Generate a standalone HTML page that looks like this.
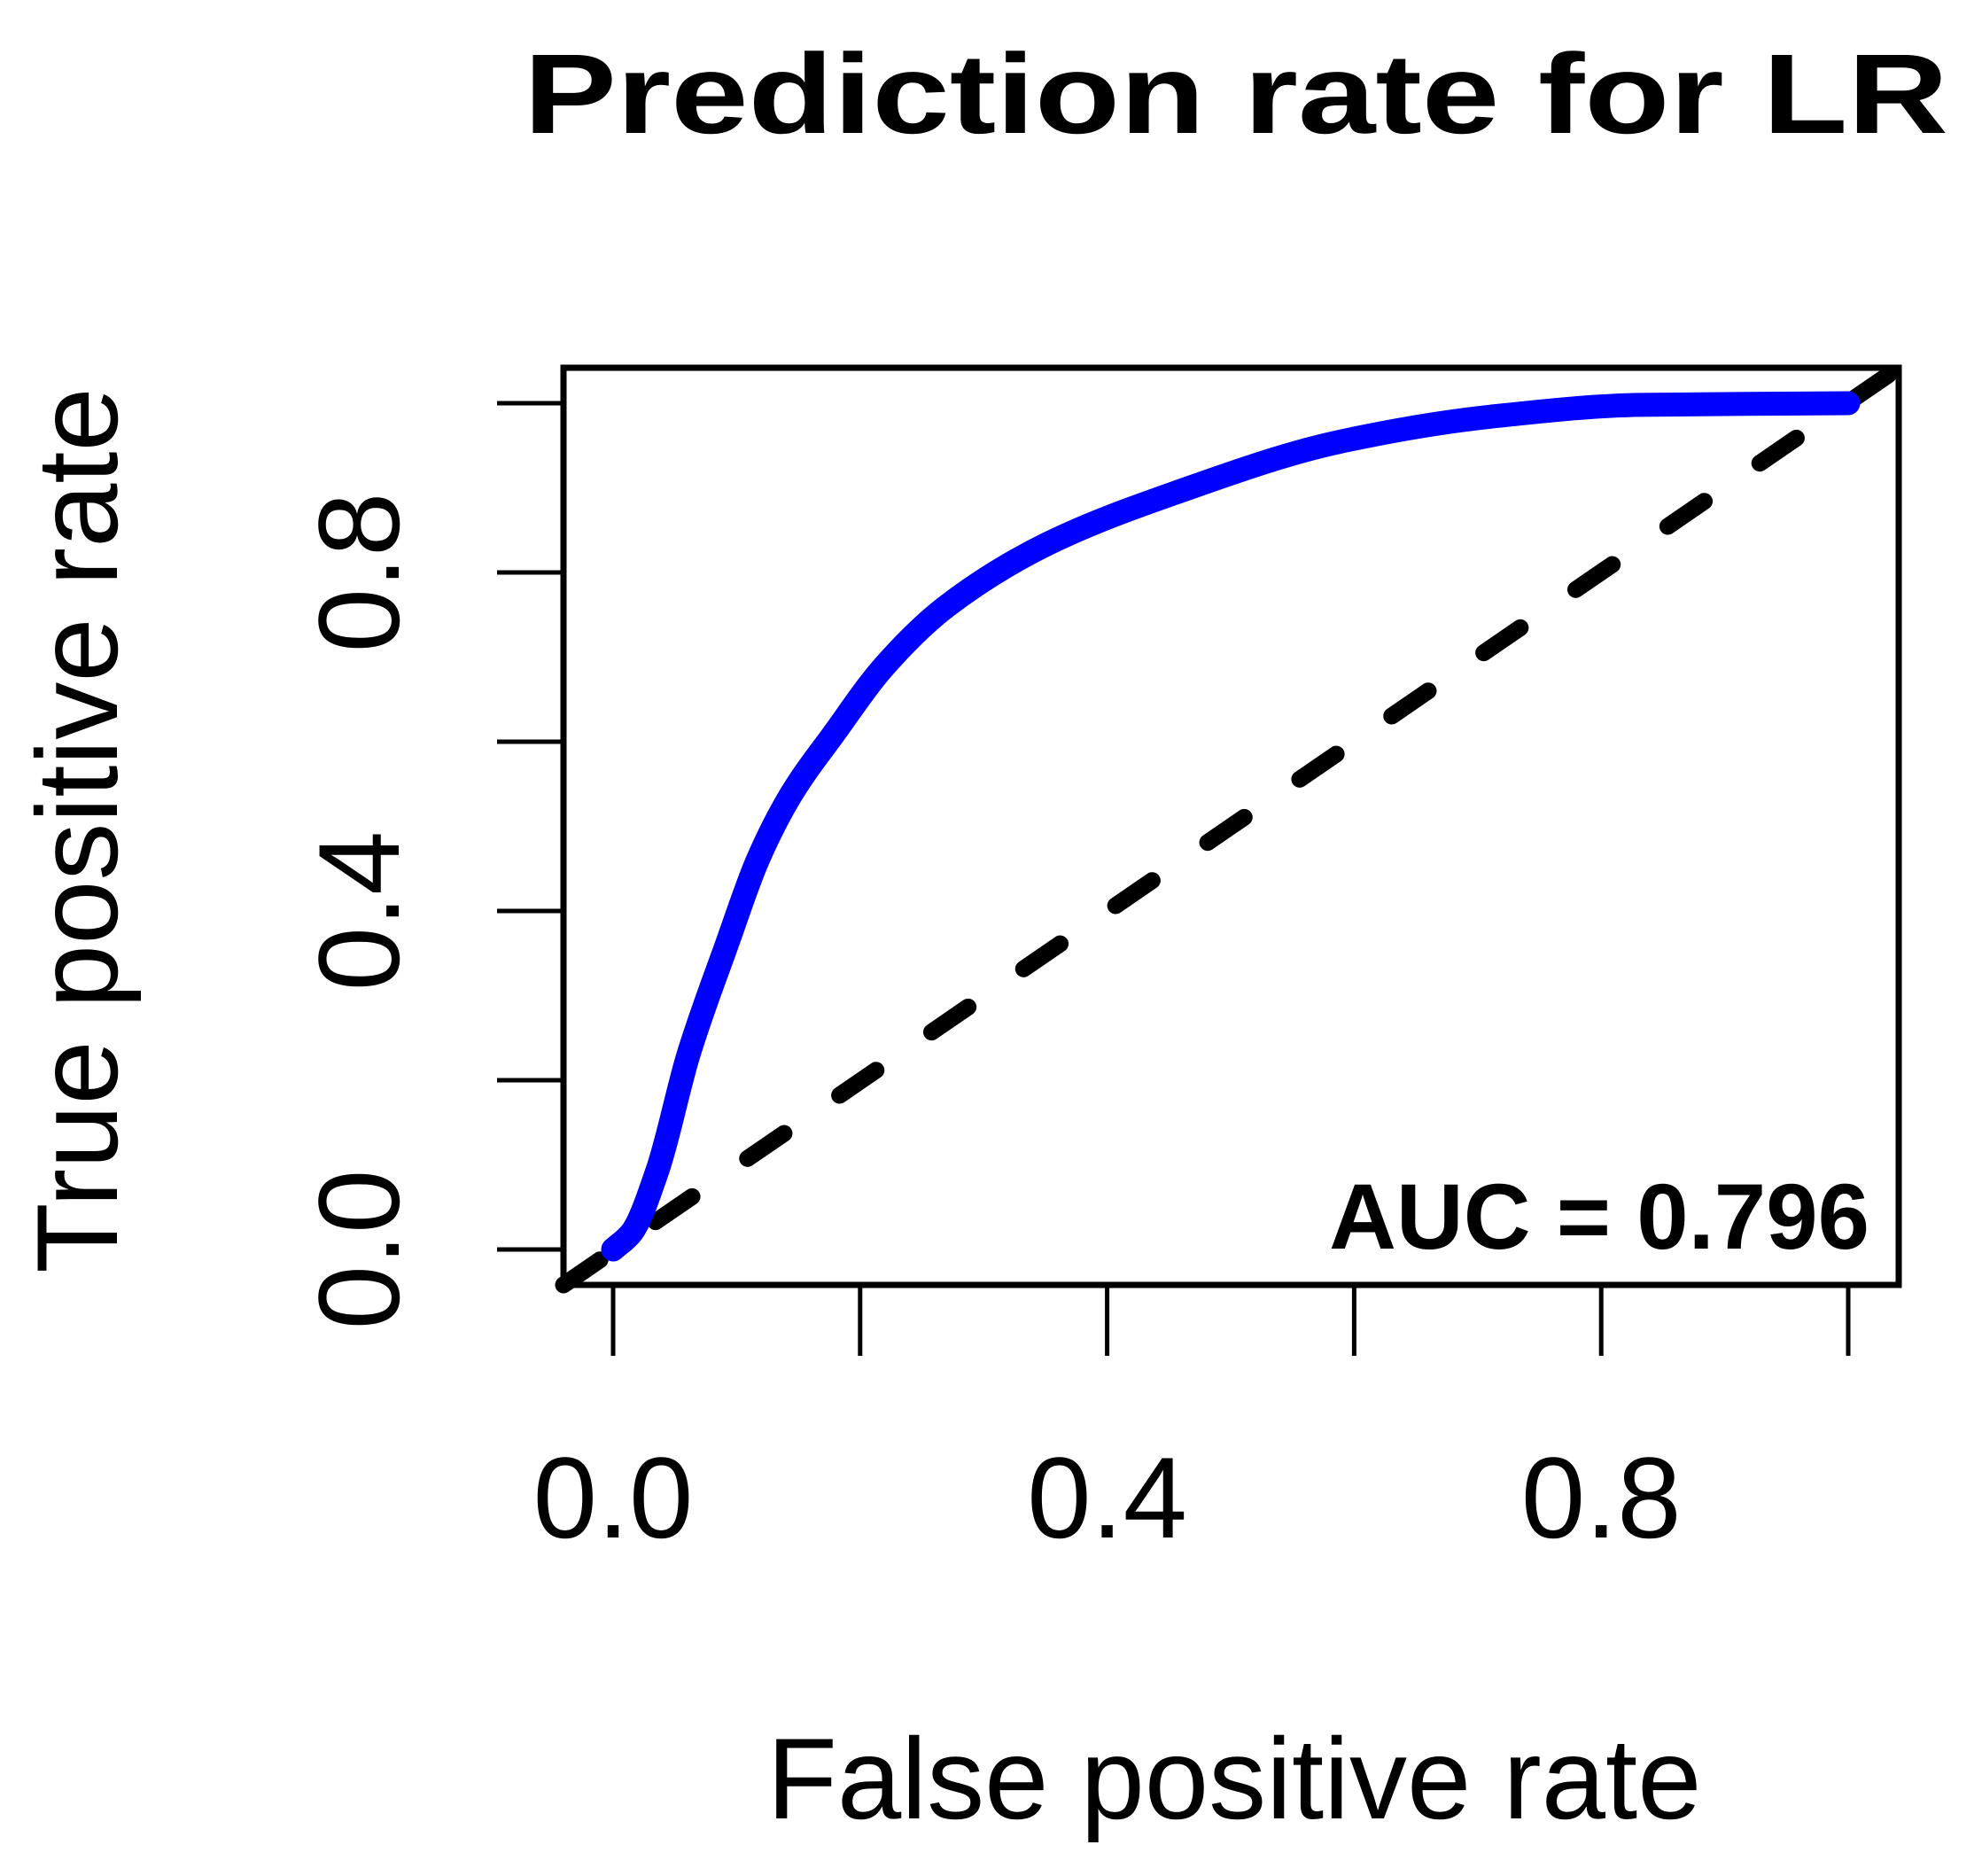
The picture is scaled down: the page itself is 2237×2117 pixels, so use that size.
<!DOCTYPE html>
<html><head><meta charset="utf-8"><style>
html,body{margin:0;padding:0;background:#fff;}
svg{display:block;}
text{font-family:"Liberation Sans",Arial,sans-serif;fill:#000;}
</style></head><body>
<svg id="chart" width="2237" height="2117" viewBox="0 0 2237 2117" xmlns="http://www.w3.org/2000/svg">
<text x="1395" y="150" font-size="128" font-weight="bold" text-anchor="middle" textLength="1608" lengthAdjust="spacingAndGlyphs">Prediction rate for LR</text>
<g id="plot"></g>
<text x="1393" y="2052" font-size="130" text-anchor="middle">False positive rate</text>
<text transform="translate(132,937) rotate(-90)" font-size="130" text-anchor="middle">True positive rate</text>
<text x="2110" y="1409" font-size="105" font-weight="bold" text-anchor="end">AUC = 0.796</text>
</svg>
<script>
const fpr = [0, 0.015, 0.036, 0.061, 0.092, 0.117, 0.143, 0.179, 0.22, 0.27, 0.352, 0.455, 0.587, 0.71, 0.832, 1.0];
const tpr = [0, 0.02, 0.094, 0.23, 0.36, 0.46, 0.535, 0.61, 0.69, 0.76, 0.834, 0.894, 0.954, 0.984, 0.998, 1.0];
const xTicks = [0, 0.2, 0.4, 0.6, 0.8, 1.0];
const yTicks = [0, 0.2, 0.4, 0.6, 0.8, 1.0];
const xTickLabels = ["0.0", "0.4", "0.8"];
const yTickLabels = ["0.0", "0.4", "0.8"];

const NS = "http://www.w3.org/2000/svg";
const g = document.getElementById('plot');
const X = v => 692 + v * 1394;
const Y = v => 1410 - v * 955;
const box = {l:636, t:415, r:2143, b:1450};

function mk(tag, attrs){ const e=document.createElementNS(NS,tag); for(const k in attrs) e.setAttribute(k,attrs[k]); g.appendChild(e); return e; }

// diagonal reference line
const diag = mk('line',{x1:box.l,y1:box.b,x2:box.r,y2:box.t,stroke:'#000','stroke-width':19,'stroke-dasharray':'50 76','stroke-linecap':'round'});



// ROC curve (monotone cubic interpolation in data space)
const n = fpr.length;
const dx = [], sl = [];
for (let i=0;i<n-1;i++){ dx.push(fpr[i+1]-fpr[i]); sl.push((tpr[i+1]-tpr[i])/dx[i]); }
const m = [sl[0]];
for (let i=1;i<n-1;i++){
  if (sl[i-1]*sl[i] <= 0) m.push(0);
  else { const w1 = 2*dx[i]+dx[i-1], w2 = dx[i]+2*dx[i-1]; m.push((w1+w2)/(w1/sl[i-1]+w2/sl[i])); }
}
m.push(sl[n-2]);
let d = 'M' + X(fpr[0]).toFixed(1) + ',' + Y(tpr[0]).toFixed(1);
for (let i=0;i<n-1;i++){
  const h = dx[i]/3;
  d += 'C' + X(fpr[i]+h).toFixed(1)+','+Y(tpr[i]+m[i]*h).toFixed(1)+' '+X(fpr[i+1]-h).toFixed(1)+','+Y(tpr[i+1]-m[i+1]*h).toFixed(1)+' '+X(fpr[i+1]).toFixed(1)+','+Y(tpr[i+1]).toFixed(1);
}
const curve = mk('path',{d:d,fill:'none',stroke:'#0000ff','stroke-width':27,'stroke-linecap':'round','stroke-linejoin':'round'});



// box
const frame = mk('rect',{x:box.l,y:box.t,width:box.r-box.l,height:box.b-box.t,fill:'none',stroke:'#000','stroke-width':7});



// x ticks
xTicks.forEach(v=>{
  const t = mk('line',{x1:X(v),y1:box.b,x2:X(v),y2:1530,stroke:'#000','stroke-width':5});
  
  
});
xTickLabels.forEach(s=>{
  const t = mk('text',{x:X(parseFloat(s)),y:1735,'font-size':130,'text-anchor':'middle'});
  t.textContent = s;
  
  
});
// y ticks
yTicks.forEach(v=>{
  const t = mk('line',{x1:561,y1:Y(v),x2:box.l,y2:Y(v),stroke:'#000','stroke-width':5});
  
  
});
yTickLabels.forEach(s=>{
  const y = Y(parseFloat(s));
  const t = mk('text',{transform:'translate(450,'+y+') rotate(-90)','font-size':130,'text-anchor':'middle'});
  t.textContent = s;
  
  
});
</script>
</body></html>
